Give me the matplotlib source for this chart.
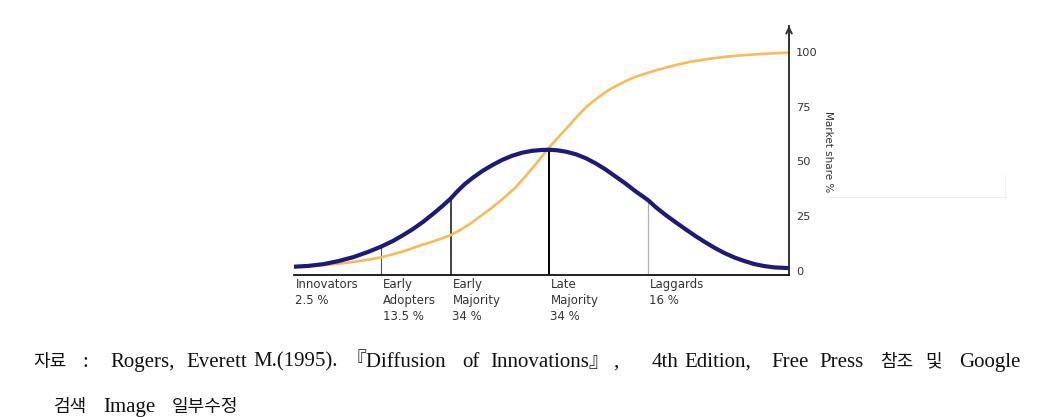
import matplotlib
matplotlib.use("Agg")
import matplotlib.pyplot as plt
from matplotlib.lines import Line2D

# horizontal position runs 0..100 across the chart, values are market share %
bell_x = [0, 3, 6, 9, 12, 15, 17.6, 20, 22, 24, 26, 28, 30, 31.7, 33, 34.5, 36, 38,
          40, 42, 44, 46, 48, 50, 51.5, 53, 55, 57, 59, 61, 63, 65, 67, 69, 71.5,
          73, 75, 77, 79, 81, 83, 85, 87, 89, 91, 93, 95, 97, 99.8]
bell_y = [1.8, 2.2, 3.0, 4.4, 6.2, 8.6, 11.0, 13.6, 16.2, 19.0, 22.2, 25.8, 29.6,
          33.1, 36.3, 39.6, 42.3, 45.5, 48.2, 50.6, 52.5, 53.9, 54.8, 55.2, 55.3,
          55.1, 54.4, 53.2, 51.4, 49.0, 46.2, 43.0, 39.8, 36.3, 32.3, 29.2, 25.6,
          22.3, 19.1, 16.0, 13.1, 10.4, 8.0, 6.0, 4.4, 3.0, 2.1, 1.5, 1.2]

share_x = [0, 3, 6, 9, 12, 15, 17.6, 20, 22, 24.2, 26, 28, 30, 31.7, 33.5, 35.5, 38,
           40, 42, 44.6, 46.5, 48.5, 50.7, 52.5, 54.1, 56, 57.4, 59, 60.8, 62.5, 64.2,
           66, 67.5, 69, 70.9, 74, 77, 80, 83.6, 87, 90.5, 95, 99.8]
share_y = [1.8, 2.1, 2.6, 3.2, 4.0, 5.0, 6.1, 7.5, 8.8, 10.5, 11.9, 13.3, 14.9, 16.3,
           18.5, 21.3, 25.5, 28.8, 32.5, 37.7, 42.5, 47.8, 54.0, 58.8, 62.8, 67.5,
           71.0, 74.8, 78.1, 81.0, 83.4, 85.6, 87.2, 88.7, 90.1, 92.2, 94.0, 95.5,
           96.8, 97.8, 98.5, 99.2, 99.7]

dividers = [17.6, 31.7, 51.5, 71.5]
divider_tops = [11.0, 33.1, 55.2, 32.3]
groups = ["Innovators\n2.5 %", "Early\nAdopters\n13.5 %", "Early\nMajority\n34 %",
          "Late\nMajority\n34 %", "Laggards\n16 %"]
yticks = [0, 25, 50, 75, 100]

caption_1 = [("자료", 33), (":", 82), ("Rogers,", 110), ("Everett", 186), ("M.(1995).", 253),
             ("『Diffusion", 345), ("of", 462), ("Innovations』", 490), (",", 613),
             ("4th", 652), ("Edition,", 684), ("Free", 771), ("Press", 819), ("참조", 880),
             ("및", 925), ("Google", 959)]
caption_2 = [("검색", 54), ("Image", 103), ("일부수정", 172)]

W, H = 1037, 417
fig = plt.figure(figsize=(W / 100, H / 100), dpi=100)
ax = fig.add_axes([294 / W, (H - 274.6) / H, (789 - 294) / W, (274.6 - 25.8) / H])
ax.set_xlim(0, 100)
ax.set_ylim(-1.8, 112)

ax.plot(share_x, share_y, color="#f5bb5c", lw=1.9, solid_capstyle="round",
        solid_joinstyle="round", zorder=2)
ax.plot(bell_x, bell_y, color="#1f1a78", lw=3.0, solid_capstyle="round",
        solid_joinstyle="round", zorder=3)

for x, top, col, lw in zip(dividers, divider_tops,
                           ["#555555", "#111111", "#000000", "#b0b0b0"],
                           [0.8, 1.1, 1.4, 0.9]):
    ax.plot([x, x], [-1.8, top], color=col, lw=lw, zorder=1)

for x, label in zip([0.0] + dividers, groups):
    ax.text(x + 0.3, -3.4, label, ha="left", va="top", fontsize=8.5,
            color="#333333", linespacing=1.3, clip_on=False)

for s in ["left", "top"]:
    ax.spines[s].set_visible(False)
ax.spines["bottom"].set_color("#111111")
ax.spines["bottom"].set_linewidth(1.3)
ax.spines["right"].set_color("#333333")
ax.spines["right"].set_linewidth(1.4)
ax.annotate("", xy=(1, 1.0), xycoords="axes fraction", xytext=(1, 0.9),
            arrowprops=dict(arrowstyle="->", lw=1.4, color="#333333",
                            shrinkA=0, shrinkB=0))
ax.set_xticks([])
ax.yaxis.tick_right()
ax.set_yticks(yticks)
ax.tick_params(axis="y", length=0, pad=5, labelsize=8.2, labelcolor="#333333")
ax.text(107.9, 54.3, "Market share %", rotation=270, ha="center", va="center",
        fontsize=7.5, color="#333333", clip_on=False)

# faint frame remnant on the right
fig.add_artist(Line2D([830, 1005], [H - 197, H - 197], transform=None,
                      color="#eeeeee", lw=0.8))
fig.add_artist(Line2D([1005, 1005], [H - 175, H - 197], transform=None,
                      color="#eeeeee", lw=0.8))

fams = ["Liberation Serif", "Noto Sans CJK KR"]
for words, base in [(caption_1, 366.7), (caption_2, 412)]:
    for word, x in words:
        korean = all("\uac00" <= ch <= "\ud7a3" for ch in word)
        fig.text(x / W, (H - base) / H, word, ha="left", va="baseline",
                 fontsize=13 if korean else 15, family=fams, color="#111111")

fig.savefig("out.png", dpi=100)
